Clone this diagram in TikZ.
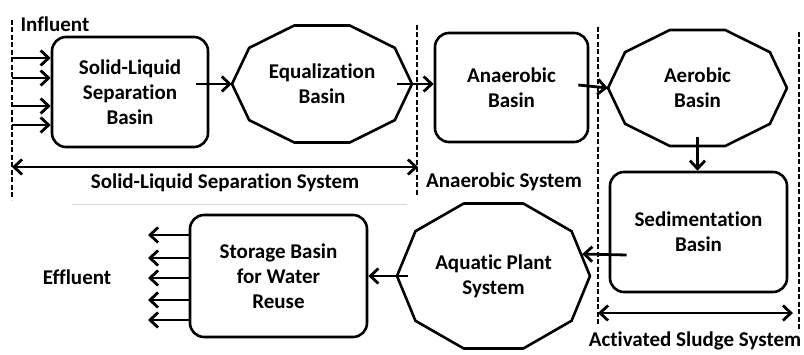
\documentclass[tikz,border=0pt]{standalone}
\usepackage{fontspec}
\setmainfont{Carlito}[Ligatures=NoCommon]
\usetikzlibrary{arrows.meta}
\tikzset{
	basin/.style={draw,line width=2.6pt,rounded corners=14pt},
	flow/.style={draw=black,line width=2.8pt,-{Straight Barb[length=8pt,width=15pt]}},
	span/.style={draw=black,line width=2.8pt,{Straight Barb[length=8pt,width=15pt]}-{Straight Barb[length=8pt,width=15pt]}},
	border/.style={line width=2pt,dash pattern=on 5pt off 2.5pt},
	sysname/.style={font=\bfseries\fontsize{21}{25}\selectfont}
}
\begin{document}
\begin{tikzpicture}[x=1pt,y=-1pt]
	\useasboundingbox (0,0) rectangle (804,355);
	% system borders
	\coordinate (d1t) at (12,20);  \coordinate (d1b) at (12,200);
	\coordinate (d2t) at (417,25); \coordinate (d2b) at (417,197);
	\coordinate (d3t) at (598,27); \coordinate (d3b) at (598,327);
	\coordinate (d4t) at (799,32); \coordinate (d4b) at (799,332);
	\foreach \d in {1,2,3,4}
		\draw[border] (d\d t) -- (d\d b);
	\begin{scope}[every node/.style={align=center,font=\bfseries\fontsize{21}{25}\selectfont}]
	\node[basin,minimum width=156pt,minimum height=110pt] (sl) at (130,92) {Solid-Liquid\\Separation\\Basin};
	\node[minimum width=180pt,minimum height=117pt] (eq) at (322,84) {Equalization\\Basin};
	\node[basin,minimum width=153pt,minimum height=109pt] (ana) at (511.5,87.5) {Anaerobic\\Basin};
	\node[minimum width=179pt,minimum height=116pt] (aer) at (697.5,88) {Aerobic\\Basin};
	\node[basin,minimum width=177pt,minimum height=120pt] (sed) at (698.5,232) {Sedimentation\\Basin};
	\node[minimum width=193pt,minimum height=145pt] (aqu) at (493.5,276) {Aquatic Plant\\System};
	\node[basin,minimum width=177pt,minimum height=122pt] (sto) at (278.5,276) {Storage Basin\\for Water\\Reuse};
	\end{scope}
	% ten-sided basins
	\foreach \n/\rx/\ry in {eq/90/61.5,aer/89.5/61,aqu/96.5/76.2}
		\draw[line width=2.6pt,line join=round] ([shift={(\rx,0)}]\n.center)
			\foreach \a in {36,72,...,324} { -- ([shift={({\rx*cos(\a)},{\ry*sin(\a)})}]\n.center) } -- cycle;
	% labels
	\node[sysname,anchor=west] (inf) at (17,24) {Influent};
	\node[sysname] (eff) at (77,277) {Effluent};
	\node[sysname] (sls) at (225,183) {Solid-Liquid Separation System};
	\node[sysname] (ans) at (504,182) {Anaerobic System};
	\node[sysname] (ass) at (695,341) {Activated Sludge System};
	\draw[gray!30,line width=0.8pt] (72,204) -- (407,204);
	\coordinate (out) at (148,278);
	\begin{scope}[every edge/.style={flow}]
	\foreach \y in {58,78,106,125}
		\path (d1t |- 0,\y) edge (sl.west |- 0,\y);
	\path ([xshift=-13pt]sl.east |- eq.west) edge (eq.west);
	\path ([xshift=-15pt]eq.east) edge (ana.west |- eq.east);
	\path ([xshift=-11pt]ana.east |- 0,85) edge (aer.west);
	\path ([yshift=9pt]aer.south) edge (sed.north -| aer.south);
	\path ([xshift=18pt,yshift=-23pt]sed.west) edge ([xshift=-8pt,yshift=22pt]aqu.east);
	\path ([xshift=11pt]aqu.west) edge (sto.east |- aqu.west);
	\foreach \y in {235,258,278,300,320}
		\path (sto.west |- 0,\y) edge (out |- 0,\y);
	\end{scope}
	\path[span] (d1t |- 0,167) -- ([xshift=1pt]d2t |- 0,167);
	\path[span] (d3t |- 0,313) -- ([xshift=-6pt]d4t |- 0,313);
\end{tikzpicture}
\end{document}
